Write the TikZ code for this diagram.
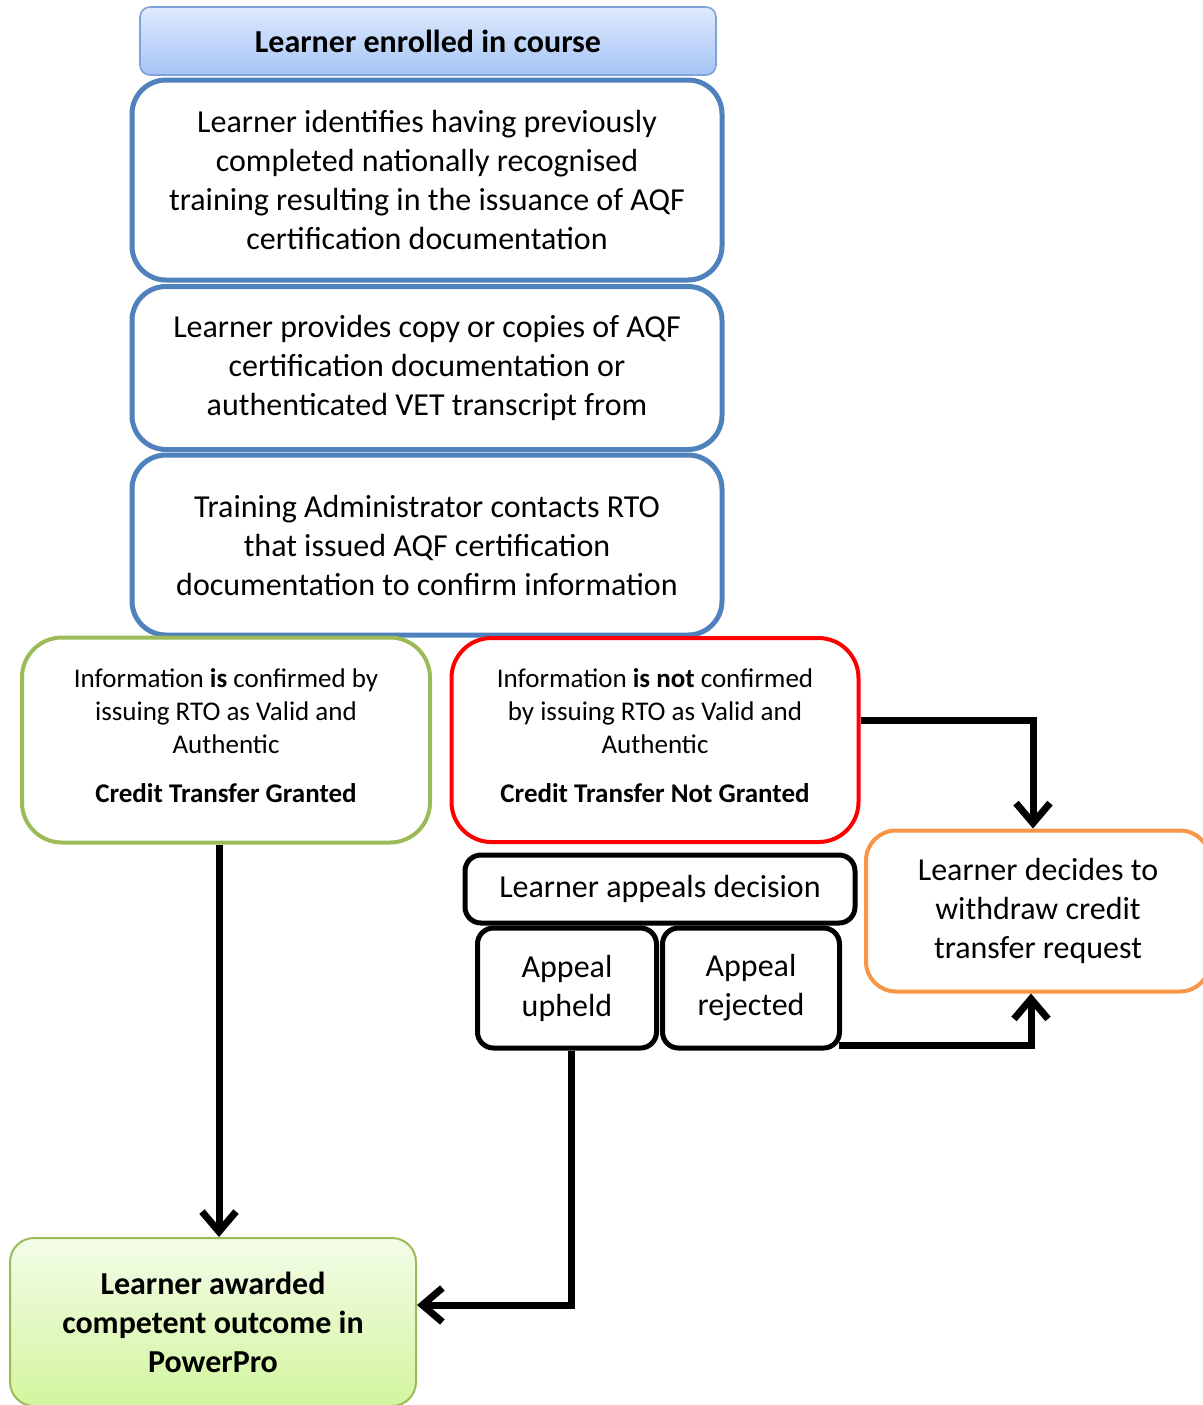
\documentclass[tikz,border=0pt]{standalone}
\usepackage{fontspec}
\setmainfont{Carlito}
\usetikzlibrary{calc}
\usetikzlibrary{arrows.meta}
\usetikzlibrary{backgrounds}
\definecolor{stepblue}{HTML}{4F81BD}
\definecolor{headline}{HTML}{7FA3D8}
\definecolor{headtop}{HTML}{DEE9FC}
\definecolor{headbot}{HTML}{A6C5F7}
\definecolor{okgreen}{HTML}{9BBB59}
\definecolor{awardtop}{HTML}{F3FCE8}
\definecolor{awardbot}{HTML}{D3F59E}
\definecolor{notred}{HTML}{FF0000}
\definecolor{quitorange}{HTML}{F79646}
\tikzset{
  headbox/.style={draw=headline,line width=0.8pt,rounded corners=5pt,top color=headtop,bottom color=headbot,
    align=center,font=\fontsize{16}{19}\selectfont\bfseries},
  stepbox/.style={draw=stepblue,line width=2.5pt,rounded corners=17pt,fill=white,align=center,
    font=\fontsize{16}{19.5}\selectfont},
  okbox/.style={draw=okgreen,line width=2pt,rounded corners=20pt,fill=white,align=center,
    font=\fontsize{13.5}{16.5}\selectfont},
  notbox/.style={draw=notred,line width=2pt,rounded corners=20pt,fill=white,align=center,
    font=\fontsize{13.5}{16.5}\selectfont},
  appealbox/.style={draw=black,line width=2.5pt,rounded corners=8pt,fill=white,align=center,
    font=\fontsize{16}{19.5}\selectfont},
  quitbox/.style={draw=quitorange,line width=2pt,rounded corners=15pt,fill=white,align=center,
    font=\fontsize{16}{19.5}\selectfont},
  awardbox/.style={draw=okgreen,line width=1pt,rounded corners=12pt,top color=awardtop,bottom color=awardbot,
    align=center,font=\fontsize{16}{19.5}\selectfont\bfseries},
  flow/.style={draw=black,line width=3.5pt,-{Straight Barb[length=10pt,width=17pt]}}
}
\begin{document}
\begin{tikzpicture}[x=0.5pt,y=-0.5pt]%
  \useasboundingbox (0,0) rectangle (1203,1405);%
  \node[headbox,minimum width=288pt,minimum height=34pt] (enrolled) at (428,41) {Learner enrolled in course};%
  \node[stepbox,minimum width=295pt,minimum height=100pt] (identifies) at (427,180)
    {Learner identifies having previously\\completed nationally recognised\\training resulting in the issuance of AQF\\certification documentation};%
  \node[stepbox,minimum width=295pt,minimum height=81.5pt] (copies) at (427,368)
    {Learner provides copy or copies of AQF\\certification documentation or\\authenticated VET transcript from};%
  \node[stepbox,minimum width=295pt,minimum height=90pt] (contacts) at (427,545)
    {Training Administrator contacts RTO\\that issued AQF certification\\documentation to confirm information};%
  \node[okbox,minimum width=204pt,minimum height=102.5pt] (valid) at (226,740)
    {Information \textbf{is} confirmed by\\issuing RTO as Valid and\\Authentic\\[8pt]\textbf{Credit Transfer Granted}\\[-12.5pt]\mbox{}};%
  \node[notbox,minimum width=203.5pt,minimum height=102pt] (invalid) at (655,740)
    {Information \textbf{is not} confirmed\\by issuing RTO as Valid and\\Authentic\\[8pt]\textbf{Credit Transfer Not Granted}\\[-12.5pt]\mbox{}};%
  \node[appealbox,minimum width=195pt,minimum height=34pt] (appeals) at (660,889) {Learner appeals decision};%
  \node[appealbox,minimum width=89.5pt,minimum height=60pt] (upheld) at (567,988) {Appeal\\upheld};%
  \node[appealbox,minimum width=88.5pt,minimum height=60pt] (rejected) at (751,988) {Appeal\\rejected};%
  \node[quitbox,minimum width=172pt,minimum height=80.5pt] (withdraw) at (1038,911)
    {Learner decides to\\withdraw credit\\transfer request};%
  \node[awardbox,minimum width=203pt,minimum height=84pt] (awarded) at (213,1322)
    {Learner awarded\\competent outcome in\\PowerPro};%
  \draw[flow] ([xshift=-3.5pt]valid.south) -- ([xshift=-3.5pt]valid.south |- awarded.north);%
  \draw[flow] ([xshift=2pt]upheld.south) |- ([yshift=8.5pt]awarded.east);%
  \draw[flow] ([yshift=10pt]invalid.east) -| ([xshift=-2.5pt]withdraw.north);%
  \draw[flow] ([xshift=-1.5pt,yshift=2.5pt]rejected.south east) -| ([xshift=-3.5pt]withdraw.south);%
\end{tikzpicture}
\end{document}
